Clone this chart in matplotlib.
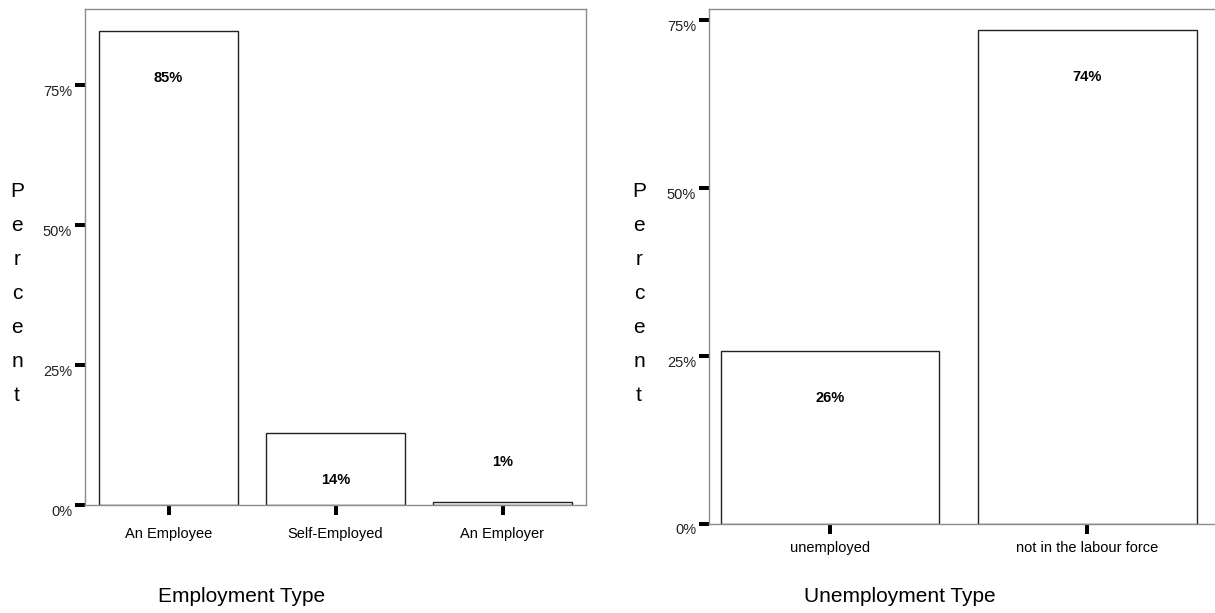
import matplotlib
matplotlib.use("Agg")
import matplotlib.pyplot as plt
from matplotlib.transforms import ScaledTranslation

plt.rcParams['font.family'] = ['Liberation Sans', 'DejaVu Sans']

# ---- data ----
emp_categories = ["An Employee", "Self-Employed", "An Employer"]
emp_values = [84.7, 12.8, 0.5]
emp_labels = ["85%", "14%", "1%"]

unemp_categories = ["unemployed", "not in the labour force"]
unemp_values = [25.8, 73.5]
unemp_labels = ["26%", "74%"]

yticks = [0, 25, 50, 75]
ytick_labels = ["0%", "25%", "50%", "75%"]

W, H = 1215, 613
fig = plt.figure(figsize=(W / 100, H / 100), dpi=100)

SPINE = "#8c8c8c"
EDGE = "#222222"


def px(v):
    return v * 72 / 100.0  # pixels -> points


def style(ax, cats, vals, labels, ylim_top, xlim, width, xpad):
    x = list(range(len(cats)))
    ax.bar(x, vals, width=width, color="white", edgecolor=EDGE, linewidth=1.0, zorder=2)
    ax.set_xlim(*xlim)
    ax.set_ylim(0, ylim_top)
    ax.set_xticks(x)
    ax.set_xticklabels(cats, fontsize=10.5)
    ax.set_yticks(yticks)
    ax.set_yticklabels(ytick_labels, fontsize=10.5, color="#222222")
    for s in ax.spines.values():
        s.set_color(SPINE)
        s.set_linewidth(1.0)
    ax.tick_params(axis="y", direction="out", length=px(10), width=px(4), color="black", pad=px(3))
    ax.tick_params(axis="x", direction="out", length=px(10), width=px(4), color="black", pad=px(xpad))
    off = ScaledTranslation(0, -5 / 100.0, fig.dpi_scale_trans)
    for lab in ax.get_yticklabels():
        lab.set_transform(lab.get_transform() + off)
    for xi, v, t in zip(x, vals, labels):
        dy = -47 if v > 5 else 40
        ax.annotate(t, xy=(xi, v), xytext=(0, px(dy)), textcoords="offset points",
                    ha="center", va="center", fontsize=10.5, fontweight="bold", zorder=3)


ax1 = fig.add_axes([85 / W, 1 - 505 / H, 501 / W, 496 / H])
style(ax1, emp_categories, emp_values, emp_labels, 496 / 560 * 100, (-0.5, 2.5), 0.835, 12)

ax2 = fig.add_axes([709 / W, 1 - 524 / H, 507 / W, 515 / H])
style(ax2, unemp_categories, unemp_values, unemp_labels, 515 / 672 * 100, (-0.47, 1.5), 0.85, 7)

# stacked y-axis labels
for xc in (17, 639):
    for i, ch in enumerate("Percent"):
        fig.text(xc / W, 1 - (197 + 34 * i) / H, ch, fontsize=15, ha="center", va="baseline")

fig.text(242 / W, 1 - 597 / H, "Employment Type", fontsize=15, ha="center", va="center")
fig.text(900 / W, 1 - 597 / H, "Unemployment Type", fontsize=15, ha="center", va="center")

fig.savefig("out.png", dpi=100)
